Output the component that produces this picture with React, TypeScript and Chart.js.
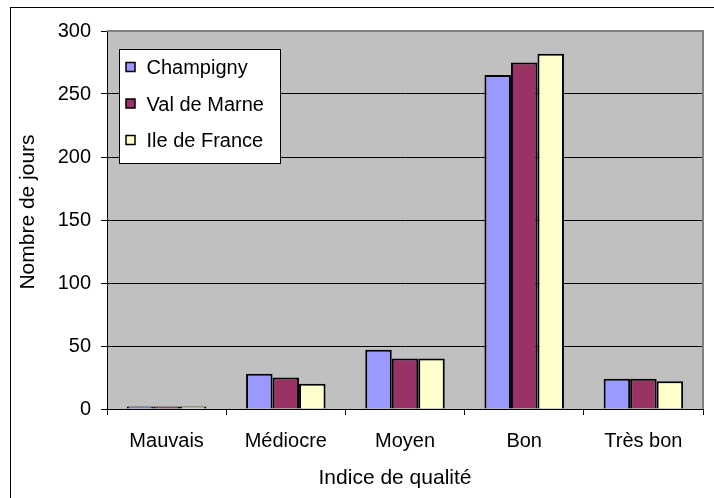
import React, { useEffect, useRef } from "react";
import { Chart, registerables } from "chart.js";

Chart.register(...registerables);

const categories = ["Mauvais", "Médiocre", "Moyen", "Bon", "Très bon"];
const champigny = [2, 28, 47, 265, 24];
const valDeMarne = [2, 25, 40, 275, 24];
const ileDeFrance = [2, 20, 40, 282, 22];
const seriesNames = ["Champigny", "Val de Marne", "Ile de France"];
const seriesColors = ["#9999FF", "#993366", "#FFFFCC"];
const yTitle = "Nombre de jours";
const xTitle = "Indice de qualité";

const FONT = "'Liberation Sans', Arial, sans-serif";

const framePlugin = {
  id: "framePlugin",
  beforeDraw(chart: any) {
    const { ctx, chartArea } = chart;
    ctx.save();
    ctx.fillStyle = "#ffffff";
    ctx.fillRect(0, 0, chart.width, chart.height);
    ctx.strokeStyle = "#000000";
    ctx.lineWidth = 1;
    ctx.strokeRect(10.5, 7.5, chart.width + 20, chart.height + 20);
    ctx.fillStyle = "#C0C0C0";
    ctx.fillRect(
      chartArea.left,
      chartArea.top,
      chartArea.right - chartArea.left,
      chartArea.bottom - chartArea.top
    );
    ctx.restore();
  },
  afterDatasetsDraw(chart: any) {
    const { ctx, chartArea } = chart;
    ctx.save();
    ctx.strokeStyle = "#808080";
    ctx.lineWidth = 2;
    ctx.beginPath();
    ctx.moveTo(chartArea.left, chartArea.top);
    ctx.lineTo(chartArea.right, chartArea.top);
    ctx.lineTo(chartArea.right, chartArea.bottom);
    ctx.stroke();
    ctx.restore();
  },
  afterDraw(chart: any) {
    const { ctx, chartArea } = chart;
    // axis titles
    ctx.save();
    ctx.fillStyle = "#000000";
    ctx.font = `21px ${FONT}`;
    ctx.textAlign = "center";
    ctx.textBaseline = "middle";
    ctx.fillText(xTitle, (chartArea.left + chartArea.right) / 2 - 10, 478);
    ctx.translate(28, (chartArea.top + chartArea.bottom) / 2 - 8);
    ctx.rotate(-Math.PI / 2);
    ctx.fillText(yTitle, 0, 0);
    ctx.restore();

    // legend
    const x0 = chartArea.left + 12;
    const y0 = chartArea.top + 18;
    const w = 161;
    const h = 114;
    ctx.save();
    ctx.fillStyle = "#ffffff";
    ctx.fillRect(x0, y0, w, h);
    ctx.strokeStyle = "#000000";
    ctx.lineWidth = 1;
    ctx.strokeRect(x0 + 0.5, y0 + 0.5, w, h);
    ctx.font = `20px ${FONT}`;
    ctx.textBaseline = "alphabetic";
    ctx.textAlign = "left";
    chart.data.datasets.forEach((ds: any, i: number) => {
      const cy = y0 + 18 + i * 36.5;
      ctx.fillStyle = ds.backgroundColor;
      ctx.fillRect(x0 + 7, cy - 4.5, 9, 9);
      ctx.strokeStyle = "#000000";
      ctx.lineWidth = 1.5;
      ctx.strokeRect(x0 + 7, cy - 4.5, 9, 9);
      ctx.fillStyle = "#000000";
      ctx.fillText(ds.label, x0 + 27.5, cy + 7.3);
    });
    ctx.restore();
  },
};

export default function App() {
  const ref = useRef<HTMLCanvasElement | null>(null);
  useEffect(() => {
    document.body.style.margin = "0";
    const canvas = ref.current;
    if (!canvas) return;
    const data = [champigny, valDeMarne, ileDeFrance];
    const chart = new Chart(canvas, {
      type: "bar",
      data: {
        labels: categories,
        datasets: seriesNames.map((name, i) => ({
          label: name,
          data: data[i],
          backgroundColor: seriesColors[i],
          borderColor: "#000000",
          borderWidth: 2,
          categoryPercentage: 0.667,
          barPercentage: 1,
        })),
      },
      options: {
        animation: false,
        responsive: false,
        maintainAspectRatio: false,
        devicePixelRatio: 1,
        layout: { padding: { left: 0, top: 31, right: 11, bottom: 0 } },
        plugins: {
          legend: { display: false },
          tooltip: { enabled: false },
        },
        scales: {
          x: {
            grid: {
              display: true,
              offset: true,
              drawOnChartArea: false,
              drawTicks: true,
              tickLength: 6,
              color: "#000000",
            },
            border: { display: true, color: "#000000", width: 1 },
            ticks: {
              color: "#000000",
              font: { family: FONT, size: 20 },
              padding: 14,
              maxRotation: 0,
            },
            afterFit(scale: any) {
              scale.height = 89;
            },
          },
          y: {
            min: 0,
            max: 300,
            ticks: {
              stepSize: 50,
              color: "#000000",
              font: { family: FONT, size: 20 },
              padding: 10,
            },
            grid: {
              color: "#000000",
              lineWidth: 1,
              tickLength: 6,
              drawTicks: true,
            },
            border: { display: true, color: "#000000", width: 1 },
            afterFit(scale: any) {
              scale.width = 107;
            },
          },
        },
      },
      plugins: [framePlugin],
    });
    return () => chart.destroy();
  }, []);
  return (
    <div style={{ width: 714, height: 498 }}>
      <canvas ref={ref} width={714} height={498} style={{ display: "block", width: 714, height: 498 }} />
    </div>
  );
}
